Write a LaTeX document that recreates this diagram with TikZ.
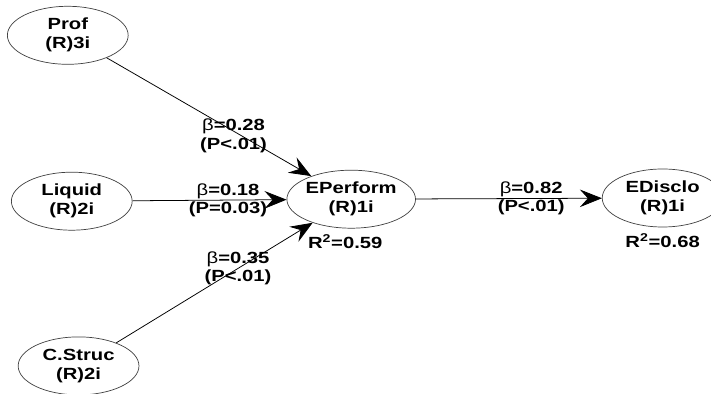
\documentclass[tikz,border=0pt]{standalone}
\usepackage{fontspec}
\setmainfont{Liberation Sans}[FakeStretch=1.25]
\usetikzlibrary{positioning,arrows.meta,shapes.geometric}

\tikzset{
    lv/.style={ellipse, draw=black!75, line width=0.5pt, minimum width=3.02cm,
        minimum height=1.45cm, inner sep=0pt, align=center,
        font=\fontsize{11.5}{13.5}\selectfont\bfseries},
    link/.style={draw=black, line width=0.55pt,
        -{Stealth[length=5.5mm, width=4.4mm, inset=2mm]}},
    coef/.style={pos=0.62, align=center, inner sep=0pt,
        font=\fontsize{11.5}{13}\selectfont\bfseries},
    rsq/.style={inner sep=2pt, font=\fontsize{11.5}{13}\selectfont\bfseries},
}

\begin{document}
\begin{tikzpicture}[]
    \useasboundingbox (0,0) rectangle (17.775,-9.85);

    \node [lv] (eperf) at (8.78,-4.98) {EPerform\\(R)1i};
    \node [lv, left=3.85cm of eperf, yshift=-0.05cm] (liquid) {Liquid\\(R)2i};
    \node [lv, above=2.68cm of liquid, xshift=-0.1cm] (prof) {Prof\\(R)3i};
    \node [lv, below=2.65cm of liquid, xshift=0.17cm] (cstruc) {C.Struc\\(R)2i};
    \node [lv, right=4.65cm of eperf, yshift=0.03cm] (edisc) {EDisclo\\(R)1i};

    \node [rsq, below=2pt of eperf, xshift=-0.15cm] (r1) {R\textsuperscript{2}=0.59};
    \node [rsq, below=2pt of edisc] (r2) {R\textsuperscript{2}=0.68};

    \draw [link] (prof) -- node [coef, yshift=-0.12cm] {{\mdseries β}=0.28\\(P<.01)} (eperf);
    \draw [link] (liquid) -- node [coef] {{\mdseries β}=0.18\\(P=0.03)} (eperf);
    \draw [link] (cstruc) -- node [coef] {{\mdseries β}=0.35\\(P<.01)} (eperf);
    \draw [link] (eperf) -- node [coef] {{\mdseries β}=0.82\\(P<.01)} (edisc);
\end{tikzpicture}
\end{document}
